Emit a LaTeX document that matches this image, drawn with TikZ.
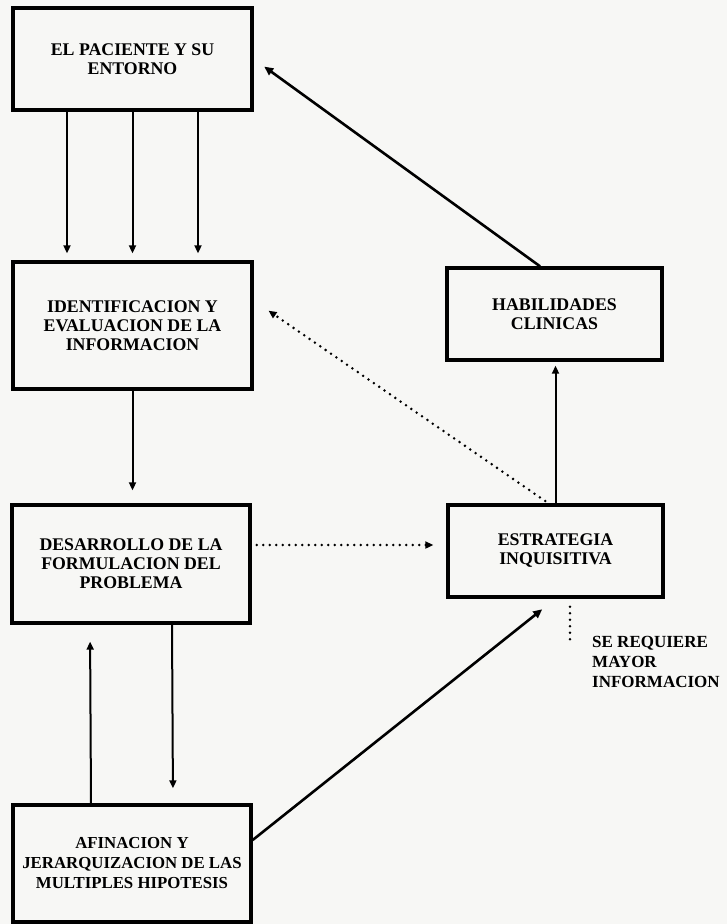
\documentclass[tikz,border=0pt]{standalone}
\usepackage{fontspec}
\setmainfont{Liberation Serif}
\usetikzlibrary{arrows.meta}
\definecolor{paper}{RGB}{247,247,245}

\begin{document}
\begin{tikzpicture}[x=1pt,y=-1pt,
  caja/.style={draw,line width=3.4pt,fill=paper,align=center,inner sep=4pt,
    font=\fontsize{17.8}{19}\selectfont\bfseries},
  flecha/.style={line width=2pt,-{Triangle[length=8pt,width=7pt]}},
  diag/.style={line width=2.6pt,-{Triangle[length=9pt,width=8pt]}},
  punteada/.style={line width=2.8pt,line cap=round,dash pattern=on 0pt off 6.5pt}]
 \fill[paper] (0,0) rectangle (727,924);
 \useasboundingbox (0,0) rectangle (727,924);
 \node[caja,minimum width=239pt,minimum height=102pt] (pac) at (132.5,59) {EL PACIENTE Y SU\\ENTORNO};
 \node[caja,minimum width=239pt,minimum height=127pt] (ide) at (132.5,325.5) {IDENTIFICACION Y\\EVALUACION DE LA\\INFORMACION};
 \node[caja,minimum width=238pt,minimum height=118pt] (des) at (131,564) {DESARROLLO DE LA\\FORMULACION DEL\\PROBLEMA};
 \node[caja,minimum width=238pt,minimum height=117pt,font=\fontsize{16.8}{20}\selectfont\bfseries] (afi) at (132,863.5) {AFINACION Y\\JERARQUIZACION DE LAS\\MULTIPLES HIPOTESIS};
 \node[caja,minimum width=215pt,minimum height=92pt] (hab) at (554.5,314) {HABILIDADES\\CLINICAS};
 \node[caja,minimum width=215pt,minimum height=92pt] (est) at (555.5,551) {ESTRATEGIA\\INQUISITIVA};
 \node[anchor=west,align=left,inner sep=0pt,font=\fontsize{17}{20}\selectfont\bfseries] (req) at (592,662) {SE REQUIERE\\MAYOR\\INFORMACION};
 \foreach \dx in {-65.5,0,65.5}{\draw[flecha,shorten >=7pt] ([xshift=\dx pt]pac.south) -- ([xshift=\dx pt]ide.north);}
 \draw[flecha,shorten >=13pt] (ide.south) -- (ide.south |- des.north);
 \draw[flecha,shorten >=15pt] ([xshift=41pt]des.south) -- ([xshift=41pt]afi.north);
 \draw[flecha,shorten >=17pt] ([xshift=-41pt]afi.north) -- ([xshift=-41pt]des.south);
 \draw[diag,shorten >=17pt] ([yshift=23.5pt]afi.east) -- (est.south);
 \draw[flecha,shorten >=4pt] (est.north) -- (est.north |- hab.south);
 \draw[diag,shorten >=13pt] ([xshift=-14.5pt]hab.north) -- (pac.east);
 \draw[punteada,-{Triangle[length=8pt,width=7pt]},shorten <=4pt,shorten >=18pt] ([xshift=-7pt]est.north) -- ([yshift=25pt]ide.east);
 \draw[punteada,-{Triangle[length=8pt,width=7pt]},shorten <=5pt,shorten >=13pt] ([yshift=19pt]des.east) -- ([yshift=19pt]des.east -| est.west);
 \coordinate (reqfin) at (570,640);
 \draw[punteada,shorten <=8pt] ([xshift=14.5pt]est.south) -- (reqfin);
\end{tikzpicture}
\end{document}
